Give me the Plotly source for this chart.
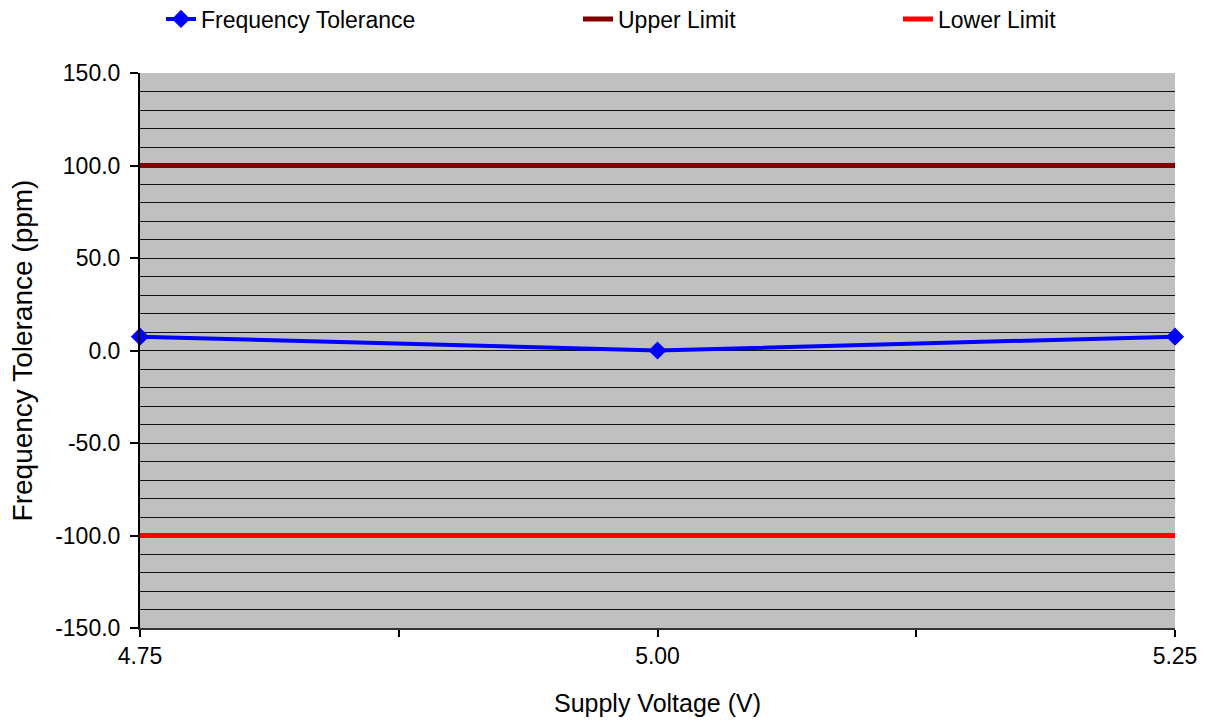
import plotly.graph_objects as go

voltage = [4.75, 5.00, 5.25]
freq_tol = [7.5, 0.0, 7.5]
upper_limit = [100.0, 100.0, 100.0]
lower_limit = [-100.0, -100.0, -100.0]

x_tickvals = [4.75, 4.875, 5.00, 5.125, 5.25]
x_ticktext = ["4.75", "", "5.00", "", "5.25"]
y_tickvals = [-150, -100, -50, 0, 50, 100, 150]
y_ticktext = ["-150.0", "-100.0", "-50.0", "0.0", "50.0", "100.0", "150.0"]
y_grid_vals = list(range(-140, 150, 10))

FONT = "Liberation Sans, Arial, sans-serif"

fig = go.Figure()
fig.add_trace(go.Scatter(
    x=voltage, y=freq_tol, name="Frequency Tolerance", mode="lines+markers",
    line=dict(color="#0000FF", width=4),
    marker=dict(symbol="diamond", size=14, color="#0000FF"),
    legend="legend", cliponaxis=False))
fig.add_trace(go.Scatter(
    x=voltage, y=upper_limit, name="Upper Limit", mode="lines",
    line=dict(color="#800000", width=5), legend="legend2"))
fig.add_trace(go.Scatter(
    x=voltage, y=lower_limit, name="Lower Limit", mode="lines",
    line=dict(color="#FF0000", width=5), legend="legend3"))

L, R, T, B = 140, 33, 73, 94
W, H = 1208, 722
pw = W - L - R
ph = H - T - B

def px_to_paper_x(px):
    return (px - L) / pw

legend_y = 1 + (T - 19) / ph
leg_common = dict(orientation="h", yanchor="middle", xanchor="left", y=legend_y,
                  font=dict(family=FONT, size=23, color="black"),
                  bgcolor="rgba(0,0,0,0)", borderwidth=0)

fig.update_layout(
    width=W, height=H,
    margin=dict(l=L, r=R, t=T, b=B, autoexpand=False),
    paper_bgcolor="white", plot_bgcolor="#C0C0C0",
    font=dict(family=FONT, size=23, color="black"),
    showlegend=True,
    legend=dict(x=px_to_paper_x(161), **leg_common),
    legend2=dict(x=px_to_paper_x(578), **leg_common),
    legend3=dict(x=px_to_paper_x(898), **leg_common),
    xaxis=dict(
        range=[4.75, 5.25], tickvals=x_tickvals, ticktext=x_ticktext,
        ticks="outside", ticklen=7, tickwidth=1.5, tickcolor="black",
        showline=True, linecolor="#333333", linewidth=1.5,
        showgrid=False, zeroline=False,
        tickfont=dict(size=23), ticklabelstandoff=0,
        title=dict(text="Supply Voltage (V)", font=dict(size=25), standoff=26),
    ),
    yaxis=dict(
        range=[-150, 150], tickvals=y_tickvals, ticktext=y_ticktext,
        ticks="outside", ticklen=8, tickwidth=1.5, tickcolor="black",
        showline=True, linecolor="black", linewidth=2,
        showgrid=False, zeroline=False,
        minor=dict(tickvals=y_grid_vals, showgrid=True, gridcolor="#111111",
                   gridwidth=1.4, ticks=""),
        tickfont=dict(size=23), ticklabelstandoff=5,
        title=dict(text="Frequency Tolerance (ppm)", font=dict(size=28), standoff=14),
    ),
)

fig.write_html("out.html")
